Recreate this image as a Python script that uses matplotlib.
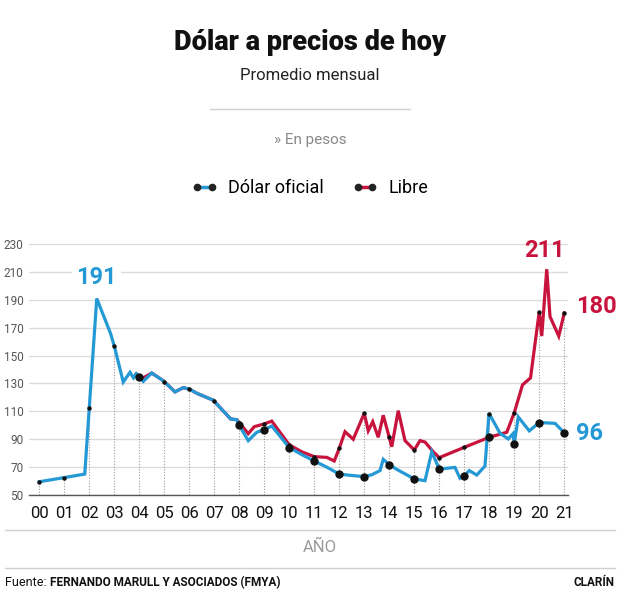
import numpy as np
import matplotlib
matplotlib.use("Agg")
import matplotlib.pyplot as plt
from matplotlib.lines import Line2D

plt.rcParams['font.family'] = ['Roboto', 'DejaVu Sans']

# años desde 2000 (fracciones = meses aproximados)
oficial_x = [0, 1.0, 1.82, 2.3, 2.85, 3.0, 3.36, 3.63, 3.77, 3.88, 4.0, 4.16, 4.5,
             4.96, 5.43, 5.76, 6.0, 6.3, 6.96, 7.66, 7.9, 8.0, 8.36, 8.7, 8.96, 9.3,
             10.0, 10.5, 11.0, 11.5, 12.0, 12.5, 13.0, 13.3, 13.63, 13.76, 14.0, 14.3,
             15.0, 15.43, 15.7, 16.0, 16.63, 16.83, 17.0, 17.2, 17.5, 17.83, 17.99,
             18.43, 18.76, 18.95, 19.0, 19.16, 19.6, 20.0, 20.63, 21.0]
oficial_y = [59.5, 62.5, 65, 191, 166, 157, 131, 138, 134, 137, 135, 131.5, 137.5,
             132, 124, 127, 126, 123, 118, 104.5, 104, 100, 89, 95, 96.6, 99.5,
             84, 79, 74.4, 70, 65, 64, 63.2, 64.5, 67.5, 75.6, 71.8, 68.4,
             61.5, 60.3, 81, 68.6, 69.8, 62, 63.9, 67.5, 64.3, 70.8, 108.6,
             94.3, 90.2, 94, 86.8, 106, 96, 102, 101.4, 94.7]

libre_x = [3.88, 4.0, 4.16, 4.5, 4.96, 5.43, 5.76, 6.0, 6.3, 6.96, 7.66, 7.9, 8.0,
           8.36, 8.6, 9.0, 9.3, 10.0, 10.5, 11.0, 11.5, 11.8, 12.0, 12.23, 12.56,
           13.0, 13.16, 13.34, 13.56, 13.76, 13.96, 14.1, 14.36, 14.63, 15.0, 15.23,
           15.43, 15.76, 16.0, 17.0, 18.0, 18.7, 19.0, 19.33, 19.65, 20.0, 20.1,
           20.3, 20.43, 20.78, 21.0]
libre_y = [137, 135, 134, 137.5, 132, 124, 127, 126, 123, 118, 104.5, 104, 102,
           94, 99, 101, 103, 86, 81, 77.5, 77, 74.4, 83.5, 95.4, 90,
           108.6, 96.1, 102.6, 91.4, 107.2, 94, 84.6, 110.5, 89, 82.3, 89,
           88, 81, 76.8, 84.2, 91.4, 95, 109, 129, 134, 181.5, 164,
           212, 178, 164, 180.5]

years = list(range(0, 22))
year_labels = ["%02d" % y for y in years]
big_dot_years = [4, 8, 9, 10, 11, 12, 13, 14, 15, 16, 17, 18, 19, 20, 21]
y_ticks = list(range(50, 231, 20))

BLUE = '#2499d5'
RED = '#c8133d'

fig = plt.figure(figsize=(6.2, 6.14), dpi=100)
W, H = 620, 614

ax = fig.add_axes([29 / W, 1 - 495 / H, 539 / W, (495 - 241.3) / H])
ax.set_xlim(-0.41, 21.15)
ax.set_ylim(50, 232)

# valores de cada serie en cada año
ofi_at = np.interp(years, oficial_x, oficial_y)
lib_at = np.array([np.interp(y, libre_x, libre_y) if y >= libre_x[0] else np.nan
                   for y in years])
tops = np.where(np.isnan(lib_at), ofi_at, np.fmax(ofi_at, lib_at))
lows = np.where(np.isnan(lib_at), ofi_at, np.fmin(ofi_at, lib_at))

ax.vlines(years, 50, tops, colors='#9a9a9a', linestyles=(0, (1, 1.5)), lw=0.8, zorder=1)
ax.plot(libre_x, libre_y, color=RED, lw=2.3, zorder=3, solid_joinstyle='miter')
ax.plot(oficial_x, oficial_y, color=BLUE, lw=2.3, zorder=4, solid_joinstyle='miter')
ax.plot(years, tops, 'o', color='#111', ms=2.2, zorder=5)
big_idx = [years.index(y) for y in big_dot_years]
ax.plot([years[i] for i in big_idx], lows[big_idx], 'o', color='#111', ms=5, zorder=6)

ax.set_yticks(y_ticks)
ax.set_xticks(years)
ax.set_xticklabels(year_labels)
ax.grid(axis='y', color='#dcdcdc', lw=1, zorder=0)
ax.set_axisbelow(True)
for s in ['top', 'right', 'left']:
    ax.spines[s].set_visible(False)
ax.spines['bottom'].set_color('#555')
ax.spines['bottom'].set_linewidth(1)
ax.tick_params(axis='y', length=0, labelsize=8.5, labelcolor='#555', pad=4)
ax.tick_params(axis='x', length=0, labelsize=12, labelcolor='#111', pad=8)

# etiquetas de valores
ax.text(2.3, 205.7, "191", color=BLUE, fontsize=17, fontweight='bold', ha='center',
        va='center', bbox=dict(facecolor='white', edgecolor='none', pad=3), zorder=7)
ax.text(20.2, 225.3, "211", color=RED, fontsize=17, fontweight='bold', ha='center',
        va='center', clip_on=False)
ax.text(22.3, 184.9, "180", color=RED, fontsize=17, fontweight='bold', ha='center',
        va='center', clip_on=False)
ax.text(22.0, 93.8, "96", color=BLUE, fontsize=17, fontweight='bold', ha='center',
        va='center', clip_on=False)

# cabecera
fig.text(0.5, 1 - 42 / H, "Dólar a precios de hoy", ha='center', va='center',
         fontsize=19.5, fontweight='black', color='#111')
fig.text(0.5, 1 - 75 / H, "Promedio mensual", ha='center', va='center',
         fontsize=12, color='#222')
fig.add_artist(Line2D([210 / W, 410 / W], [1 - 109 / H] * 2, color='#d0d0d0', lw=1))
fig.text(310 / W, 1 - 140 / H, "» En pesos", ha='center', va='center',
         fontsize=11, color='#888')

handles = [Line2D([0, 1], [0, 0], color=BLUE, lw=2.5, marker='o', ms=4.5,
                  markerfacecolor='#222', markeredgecolor='#222'),
           Line2D([0, 1], [0, 0], color=RED, lw=2.5, marker='o', ms=4.5,
                  markerfacecolor='#222', markeredgecolor='#222')]
fig.legend(handles, ["Dólar oficial", "Libre"], loc='center',
           bbox_to_anchor=(310 / W, 1 - 188 / H), ncol=2, frameon=False,
           numpoints=2, fontsize=13, handlelength=1.4, handletextpad=0.6,
           columnspacing=1.6)

# pie
fig.add_artist(Line2D([5 / W, 615 / W], [1 - 530 / H] * 2, color='#d0d0d0', lw=1))
fig.text(320 / W, 1 - 547 / H, "AÑO", ha='center', va='center', fontsize=12, color='#999')
fig.add_artist(Line2D([5 / W, 615 / W], [1 - 568 / H] * 2, color='#d0d0d0', lw=1))
t = fig.text(5 / W, 1 - 583 / H, "Fuente: ", ha='left', va='center', fontsize=9, color='#111')
ax.annotate("FERNANDO MARULL Y ASOCIADOS (FMYA)", xy=(1, 0.5), xycoords=t,
            va='center', ha='left', fontsize=8.5, fontweight='bold', color='#111')
fig.text(615 / W, 1 - 583 / H, "CLARÍN", ha='right', va='center', fontsize=8.5,
         fontweight='bold', color='#111')

fig.savefig("out.png", dpi=100)
